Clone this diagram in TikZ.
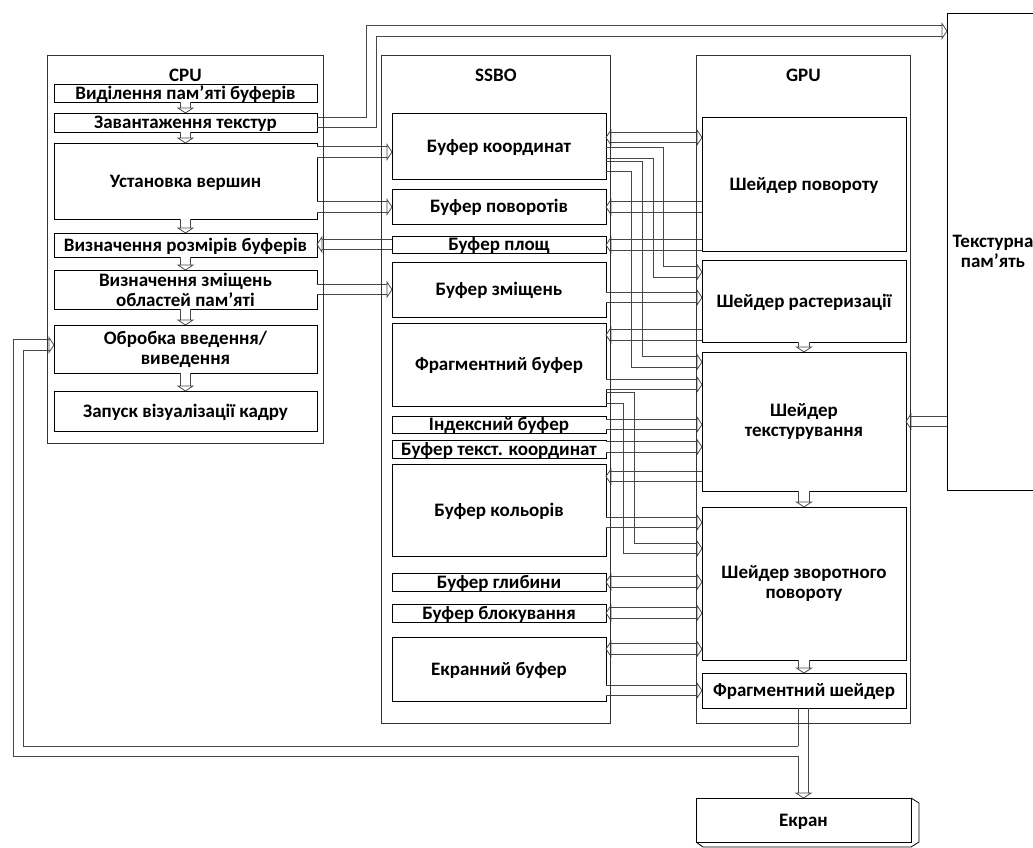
\documentclass[tikz,border=0pt]{standalone}
\usepackage{fontspec}
\setmainfont{Carlito}
\usetikzlibrary{calc}
\newcommand\pipehalf{5.15pt}
% right-down-right channel: start, lower corner, end
\newcommand\pipeturn[3]{%
  \draw[wire] ([yshift=\pipehalf]#1) -| ([xshift=\pipehalf, yshift=\pipehalf]#2) -- ([xshift=-5pt, yshift=\pipehalf]#3);
  \draw[wire] ([yshift=-\pipehalf]#1) -| ([xshift=-\pipehalf, yshift=-\pipehalf]#2) -- ([xshift=-5pt, yshift=-\pipehalf]#3);
  \pic at (#3) {ahead};}
\tikzset{
  wire/.style={draw=black!72, line width=.8pt},
  pipe/.style={wire, double=white, double distance=9.5pt},
  box/.style={draw, line width=.8pt, inner sep=0pt, outer sep=0pt, anchor=north west,
              align=center, font=\fontsize{19}{20}\selectfont\bfseries},
  oneline/.style={text height=12.2pt, text depth=0pt},
  cpubox/.style={box, minimum width=263pt},
  ssbobox/.style={box, minimum width=214pt},
  gpubox/.style={box, minimum width=204pt},
  unitframe/.style={draw=black!80, line width=.8pt, inner sep=0pt, anchor=north west},
  unitname/.style={font=\fontsize{19}{20}\selectfont\bfseries},
  ahead/.pic={\draw[wire] (-5,-\pipehalf) -- (-5,-7.5) -- (0,0) -- (-5,7.5) -- (-5,\pipehalf);},
}
\begin{document}
\begin{tikzpicture}[x=1pt, y=-1pt]
  \clip (0,0) rectangle (1033,847);

  % CPU
  \node[cpubox, oneline, minimum height=18pt] (c1) at (54,84) {Виділення пам’яті буферів};
  \node[cpubox, oneline, minimum height=19pt] (c2) at (54,113) {Завантаження текстур};
  \node[cpubox, oneline, minimum height=76pt] (c3) at (54,143) {Установка вершин};
  \node[cpubox, oneline, minimum height=24pt] (c4) at (54,233) {Визначення розмірів буферів};
  \node[cpubox, minimum height=39pt] (c5) at (54,270) {Визначення зміщень\\областей пам’яті};
  \node[cpubox, minimum height=48pt] (c6) at (54,325) {Обробка введення/\\виведення};
  \node[cpubox, oneline, minimum height=40pt] (c7) at (54,391) {Запуск візуалізації кадру};

  % SSBO
  \node[ssbobox, oneline, minimum height=66pt] (b1) at (392,113) {Буфер координат};
  \node[ssbobox, oneline, minimum height=35pt] (b2) at (392,189) {Буфер поворотів};
  \node[ssbobox, oneline, minimum height=17pt] (b3) at (392,236) {Буфер площ};
  \node[ssbobox, oneline, minimum height=55pt] (b4) at (392,262) {Буфер зміщень};
  \node[ssbobox, oneline, minimum height=83pt] (b5) at (392,323) {Фрагментний буфер};
  \node[ssbobox, oneline, minimum height=17pt] (b6) at (392,416) {Індексний буфер};
  \node[ssbobox, oneline, minimum height=18pt] (b7) at (392,440) {Буфер текст. координат};
  \node[ssbobox, oneline, minimum height=92pt] (b8) at (392,464) {Буфер кольорів};
  \node[ssbobox, oneline, minimum height=18pt] (b9) at (392,573) {Буфер глибини};
  \node[ssbobox, oneline, minimum height=18pt] (b10) at (392,604) {Буфер блокування};
  \node[ssbobox, oneline, minimum height=64pt] (b11) at (392,637) {Екранний буфер};

  % GPU
  \node[gpubox, oneline, minimum height=134pt] (g1) at (702,117) {Шейдер повороту};
  \node[gpubox, oneline, minimum height=82pt] (g2) at (702,260) {Шейдер растеризації};
  \node[gpubox, minimum height=139pt] (g3) at (702,352) {Шейдер\\текстурування};
  \node[gpubox, minimum height=153pt] (g4) at (702,507) {Шейдер зворотного\\повороту};
  \node[gpubox, oneline, minimum height=35pt] (g5) at (702,673) {Фрагментний шейдер};

  \node[box, minimum width=92pt, minimum height=477pt] (tex) at (947,13) {Текстурна\\пам’ять};
  \node[box, oneline, minimum width=215pt, minimum height=44pt] (ekr) at (696,798) {Екран};
  \draw[line width=.8pt] (ekr.north east) -- ++(8,5) -- ++(0,39) -- ++(-8,5)
    -- ($(ekr.south west)+(7,5)$) -- (ekr.south west);

  % pipes inside the columns
  \foreach \a/\b in {c1/c2, c2/c3, c3/c4, c4/c5, c5/c6, c6/c7, g2/g3, g3/g4, g4/g5} {
    \draw[pipe, shorten >=5pt] (\a.south) -- (\b.north);
    \pic[rotate=-90] at (\b.north) {ahead};
  }

  % straight pipes
  \foreach \s/\e/\y in {c3.east/b1.west/152, c3.east/b2.west/207, c5.east/b4.west/289.5,
      b4.east/g2.west/297.5, b5.east/g3.west/384.5, b6.east/g3.west/424.5,
      b7.east/g3.west/447, b8.east/g4.west/522.5, b11.east/g5.west/690.5} {
    \draw[pipe, shorten >=5pt] (\s |- 0,\y) -- (\e |- 0,\y);
    \pic at (\e |- 0,\y) {ahead};
  }
  \foreach \s/\e/\y in {b3.west/c4.east/244.5, g1.west/b2.east/207, g1.west/b3.east/245,
      g2.west/b5.east/335, g3.west/b8.east/476.5, tex.west/g3.east/421.5} {
    \draw[pipe, shorten >=5pt] (\s |- 0,\y) -- (\e |- 0,\y);
    \pic[rotate=180] at (\e |- 0,\y) {ahead};
  }
  \foreach \s/\e/\y in {b1.east/g1.west/137.5, b9.east/g4.west/582,
      b10.east/g4.west/613, b11.east/g4.west/649} {
    \draw[pipe, shorten >=5pt, shorten <=5pt] (\s |- 0,\y) -- (\e |- 0,\y);
    \pic[rotate=180] at (\s |- 0,\y) {ahead};
    \pic at (\e |- 0,\y) {ahead};
  }

  % bent pipes
  \coordinate (a1) at (b1.east |- 0,153);
  \coordinate (a2) at (658.5,272);
  \coordinate (a3) at (g2.west |- a2);
  \pipeturn{a1}{a2}{a3}
  \coordinate (k1) at (b1.east |- 0,166.5);
  \coordinate (k2) at (637,362);
  \coordinate (k3) at (g3.west |- k2);
  \pipeturn{k1}{k2}{k3}
  \coordinate (f1) at (b5.east |- 0,398);
  \coordinate (f2) at (629,548.5);
  \coordinate (f3) at (g4.west |- f2);
  \pipeturn{f1}{f2}{f3}

  % textures up to the texture memory
  \coordinate (t2) at (371.5,31);
  \coordinate (t3) at (tex.west |- t2);
  \draw[wire] ([yshift=\pipehalf]c2.east) -| ([xshift=-\pipehalf, yshift=\pipehalf]t2) -- ([xshift=-5pt, yshift=\pipehalf]t3);
  \draw[wire] ([yshift=-\pipehalf]c2.east) -| ([xshift=\pipehalf, yshift=-\pipehalf]t2) -- ([xshift=-5pt, yshift=-\pipehalf]t3);
  \pic at (t3) {ahead};

  % output to the screen and back to the CPU
  \coordinate (o1) at (g5.south -| ekr.north);
  \coordinate (sp) at (ekr.north |- 0,751.3);
  \coordinate (lp) at (18.3,345);
  \coordinate (le) at (c6.west |- lp);
  \draw[wire] ([xshift=\pipehalf]o1) -- ([xshift=\pipehalf, yshift=5pt]ekr.north);
  \draw[wire] ([xshift=-\pipehalf]o1) -- ([xshift=-\pipehalf, yshift=\pipehalf]sp);
  \draw[wire] ([xshift=-\pipehalf, yshift=-\pipehalf]sp) -- ([xshift=-\pipehalf, yshift=5pt]ekr.north);
  \pic[rotate=-90] at (ekr.north) {ahead};
  \draw[wire] ([xshift=-\pipehalf, yshift=-\pipehalf]sp) -| ([xshift=-\pipehalf, yshift=\pipehalf]lp) -- ([xshift=-5pt, yshift=\pipehalf]le);
  \draw[wire] ([xshift=-\pipehalf, yshift=\pipehalf]sp) -| ([xshift=\pipehalf, yshift=-\pipehalf]lp) -- ([xshift=-5pt, yshift=-\pipehalf]le);
  \pic at (le) {ahead};

  % unit frames
  \node[unitframe, minimum width=276pt, minimum height=388pt] (cpu) at (47,55) {};
  \node[unitframe, minimum width=229pt, minimum height=668pt] (ssbo) at (381,55) {};
  \node[unitframe, minimum width=214pt, minimum height=668pt] (gpu) at (696,55) {};
  \node[unitname] (cpuname) at (cpu.north |- 0,75) {CPU};
  \node[unitname] (ssboname) at (ssbo.north |- 0,75) {SSBO};
  \node[unitname] (gpuname) at (gpu.north |- 0,75) {GPU};
\end{tikzpicture}
\end{document}
